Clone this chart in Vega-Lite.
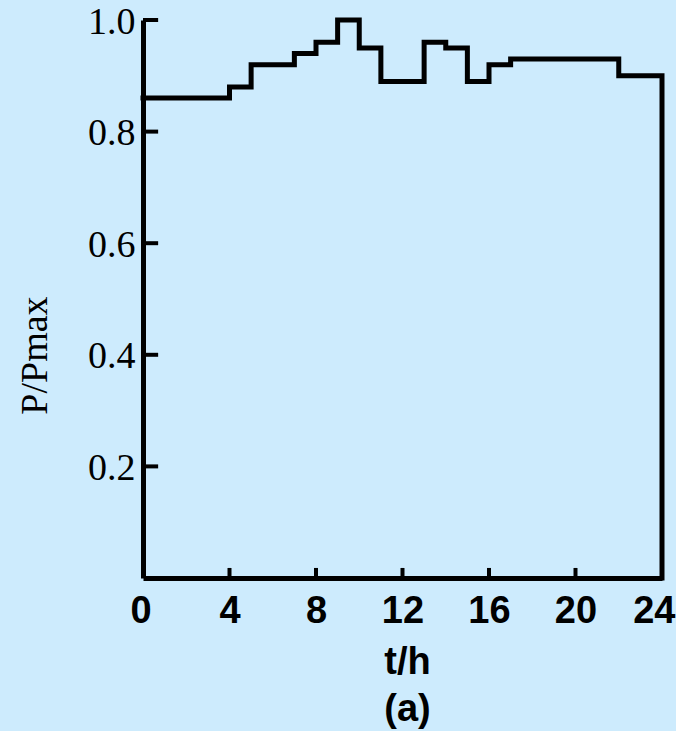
{
  "$schema": "https://vega.github.io/schema/vega-lite/v6.json",
  "width": 519,
  "height": 558,
  "autosize": {"type": "none"},
  "padding": {"left": 143, "top": 20, "right": 14, "bottom": 153},
  "background": "#cdebfd",
  "config": {"view": {"stroke": null}},
  "datasets": {
    "power": [
      {"t": 0, "p": 0.86},
      {"t": 4, "p": 0.88},
      {"t": 5, "p": 0.92},
      {"t": 7, "p": 0.94},
      {"t": 8, "p": 0.96},
      {"t": 9, "p": 1.0},
      {"t": 10, "p": 0.95},
      {"t": 11, "p": 0.89},
      {"t": 13, "p": 0.96},
      {"t": 14, "p": 0.95},
      {"t": 15, "p": 0.89},
      {"t": 16, "p": 0.92},
      {"t": 17, "p": 0.93},
      {"t": 22, "p": 0.90},
      {"t": 24, "p": 0.90},
      {"t": 24, "p": 0.0}
    ],
    "yticks": [{"p": 0.2}, {"p": 0.4}, {"p": 0.6}, {"p": 0.8}, {"p": 1.0}],
    "xticks": [{"t": 4}, {"t": 8}, {"t": 12}, {"t": 16}, {"t": 20}]
  },
  "layer": [
    {
      "data": {"name": "power"},
      "mark": {"type": "line", "interpolate": "step-after", "color": "#000000", "strokeWidth": 5, "strokeJoin": "miter", "strokeCap": "square"},
      "encoding": {
        "x": {
          "field": "t", "type": "quantitative",
          "scale": {"domain": [0, 24], "nice": false, "zero": false},
          "axis": {
            "values": [0, 4, 8, 12, 16, 20, 24],
            "grid": false, "ticks": false,
            "domainColor": "#000000", "domainWidth": 5,
            "labelFont": "Liberation Sans", "labelFontWeight": "bold", "labelFontSize": 38, "labelColor": "#000000",
            "labelPadding": 14, "labelFlush": true, "labelFlushOffset": 13, "labelBaseline": "top",
            "title": ["t/h", "(a)"],
            "titleFont": "Liberation Sans", "titleFontWeight": "bold", "titleFontSize": 38, "titleColor": "#000000",
            "titleLineHeight": 47, "titleBaseline": "alphabetic", "titleY": 95, "titleX": 264, "titleAnchor": "middle"
          }
        },
        "y": {
          "field": "p", "type": "quantitative",
          "scale": {"domain": [0, 1.0], "nice": false},
          "axis": {
            "values": [0.2, 0.4, 0.6, 0.8, 1.0],
            "format": ".1f",
            "grid": false, "ticks": false,
            "domainColor": "#000000", "domainWidth": 5,
            "labelFont": "Liberation Serif", "labelFontSize": 38, "labelColor": "#000000",
            "labelPadding": 8, "labelFlush": false, "labelOffset": 2,
            "title": "P/Pmax",
            "titleFont": "Liberation Serif", "titleFontWeight": "normal", "titleFontSize": 38, "titleColor": "#000000",
            "titleAngle": -90, "titleBaseline": "alphabetic", "titleAlign": "center",
            "titleX": -97, "titleY": 335
          }
        }
      }
    },
    {
      "data": {"name": "yticks"},
      "mark": {"type": "rule", "color": "#000000", "strokeWidth": 4},
      "encoding": {
        "y": {"field": "p", "type": "quantitative"},
        "x": {"datum": 0},
        "x2": {"datum": 0.7}
      }
    },
    {
      "data": {"name": "xticks"},
      "mark": {"type": "rule", "color": "#000000", "strokeWidth": 4},
      "encoding": {
        "x": {"field": "t", "type": "quantitative"},
        "y": {"datum": 0},
        "y2": {"datum": 0.018}
      }
    }
  ]
}
